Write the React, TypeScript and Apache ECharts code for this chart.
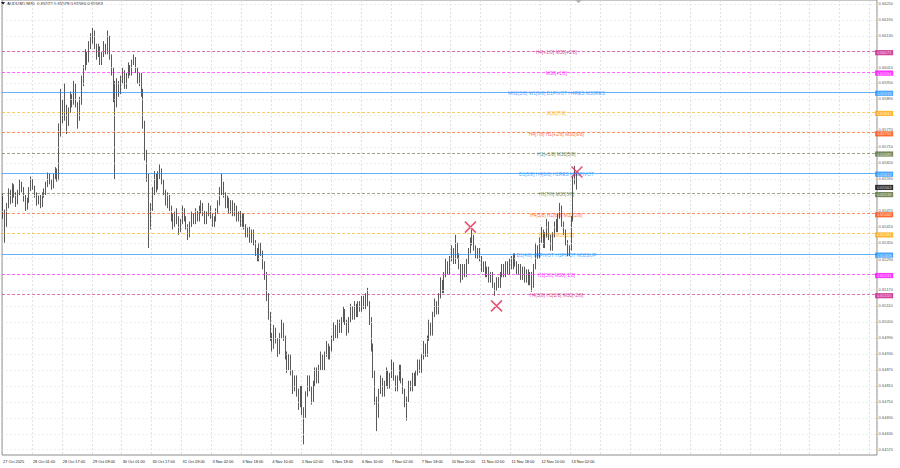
import { useEffect, useRef } from "react";
import * as echarts from "echarts";

const xTickLabels = [
  "27 Oct 2025", "28 Oct 01:00", "28 Oct 17:00", "29 Oct 09:00", "30 Oct 01:00",
  "30 Oct 17:00", "31 Oct 09:00", "3 Nov 02:00", "3 Nov 18:00", "4 Nov 10:00",
  "5 Nov 02:00", "5 Nov 18:00", "6 Nov 10:00", "7 Nov 02:00", "7 Nov 18:00",
  "10 Nov 10:00", "11 Nov 02:00", "11 Nov 18:00", "12 Nov 10:00", "13 Nov 02:00",
];

const yTicks = [
  0.6625, 0.6619, 0.6613, 0.6607, 0.6601, 0.6595, 0.6589, 0.6583, 0.6577, 0.6571,
  0.6565, 0.6559, 0.6553, 0.6547, 0.6541, 0.6535, 0.6529, 0.6523, 0.6517, 0.6511,
  0.6505, 0.6499, 0.6493, 0.6487, 0.6481, 0.6475, 0.6469, 0.6463, 0.6457,
];
const yTicksHidden = [0.6607, 0.6583, 0.6553, 0.6523];

// candles as [open, close, low, high] in 1e-5 units
const candlesA = [
  [65520,65460,65440,65535],[65460,65420,65350,65475],[65420,65490,65410,65500],[65490,65540,65480,65555],
  [65540,65510,65495,65550],[65510,65560,65500,65575],[65560,65530,65520,65570],[65530,65500,65485,65540],
  [65500,65540,65495,65550],[65540,65570,65530,65590],[65570,65550,65540,65580],[65550,65520,65505,65560],
  [65520,65480,65470,65530],[65480,65510,65475,65520],[65510,65550,65500,65560],[65550,65580,65545,65600],
  [65580,65560,65550,65590],[65560,65530,65520,65565],[65530,65500,65490,65540],[65500,65520,65495,65530],
  [65520,65490,65480,65530],[65490,65530,65485,65540],[65530,65540,65520,65555],[65540,65570,65530,65580],
  [65570,65600,65560,65615],[65600,65580,65570,65610],[65580,65560,65550,65590],[65560,65600,65555,65610],
  [65600,65620,65590,65635],[65620,65590,65580,65630],[65590,65760,65585,65800],[65760,65880,65750,65930],
  [65880,65820,65800,65890],[65820,65860,65810,65950],[65860,65800,65760,65870],[65800,65850,65790,65860],
  [65850,65900,65840,65920],[65900,65880,65860,65910],[65880,65940,65870,65960],[65940,65870,65860,65950],
  [65870,65820,65780,65880],[65820,65880,65810,65900],[65880,65950,65870,65980],[65950,66010,65940,66020],
  [66010,66060,66000,66080],[66060,66040,66020,66070],[66040,66090,66030,66110],[66090,66120,66080,66140],
  [66120,66130,66100,66160],[66130,66090,66080,66150],[66090,66060,66040,66100],[66060,66080,66050,66100],
  [66080,66030,66020,66090],[66030,66060,66020,66070],[66060,66090,66050,66110],[66090,66070,66060,66100],
  [66070,66110,66060,66150],[66110,66050,66040,66130],[66050,66000,65980,66060],[66000,65950,65880,66010],
  [65950,65900,65590,65960],[65900,65950,65860,65970],[65950,65920,65900,65960],[65920,65960,65910,65980],
  [65960,65990,65950,66010],[65990,65940,65930,66000],[65940,65980,65930,65990],[65980,66010,65970,66030],
  [66010,65990,65980,66020],[65990,66030,65980,66040],[66030,66040,66020,66060],[66040,66000,65990,66050],
  [66000,65960,65950,66010],[65960,65980,65940,65990],[65980,65920,65900,65990],[65920,65800,65780,65930],
  [65800,65680,65660,65810],[65680,65600,65580,65700],[65600,65420,65330,65610],[65420,65480,65400,65500],
];
const candlesB = [
  [65480,65540,65470,65560],[65540,65600,65530,65620],[65600,65560,65540,65610],[65560,65600,65550,65620],
  [65600,65620,65590,65645],[65620,65580,65570,65630],[65580,65540,65530,65590],[65540,65500,65490,65550],
  [65500,65520,65480,65540],[65520,65480,65470,65530],[65480,65450,65430,65490],[65450,65420,65400,65460],
  [65420,65460,65410,65470],[65460,65440,65420,65480],[65440,65400,65380,65450],[65400,65430,65390,65440],
  [65430,65470,65420,65490],[65470,65440,65430,65480],[65440,65410,65400,65450],[65410,65380,65360,65420],
  [65380,65420,65370,65430],[65420,65450,65410,65470],[65450,65430,65420,65460],[65430,65460,65420,65480],
  [65460,65440,65430,65470],[65440,65470,65430,65490],[65470,65490,65460,65510],[65490,65460,65450,65500],
  [65460,65430,65420,65470],[65430,65460,65420,65470],[65460,65480,65450,65500],[65480,65450,65440,65490],
  [65450,65420,65410,65460],[65420,65440,65410,65450],[65440,65470,65430,65480],[65470,65500,65460,65510],
  [65500,65540,65490,65560],[65540,65570,65530,65610],[65570,65530,65520,65580],[65530,65490,65480,65540],
  [65490,65510,65480,65530],[65510,65470,65460,65520],[65470,65500,65460,65510],[65500,65460,65450,65510],
  [65460,65480,65450,65500],[65480,65440,65430,65490],[65440,65460,65430,65470],[65460,65420,65410,65470],
  [65420,65450,65410,65460],[65450,65410,65400,65460],[65410,65380,65370,65420],[65380,65400,65370,65410],
  [65400,65360,65350,65410],[65360,65390,65350,65400],[65390,65350,65340,65400],[65350,65320,65300,65360],
  [65320,65290,65280,65330],[65290,65340,65280,65350],[65340,65310,65300,65350],[65310,65270,65250,65320],
  [65270,65230,65210,65280],[65230,65150,65130,65240],[65150,65080,65060,65160],[65080,65000,64980,65090],
  [65000,64960,64940,65010],[64960,65020,64950,65040],[65020,64980,64970,65030],[64980,64940,64920,64990],
  [64940,65000,64930,65010],[65000,65040,64990,65060],[65040,64990,64980,65050],[64990,64930,64910,65000],
  [64930,64880,64860,64940],[64880,64920,64870,64930],[64920,64860,64850,64930],[64860,64800,64780,64870],
  [64800,64840,64790,64850],[64840,64790,64770,64850],[64790,64740,64720,64800],[64740,64800,64730,64810],
];
const candlesC = [
  [64800,64720,64700,64810],[64720,64700,64590,64730],[64700,64780,64690,64790],[64780,64840,64770,64850],
  [64840,64800,64790,64850],[64800,64760,64740,64810],[64760,64820,64750,64830],[64820,64870,64810,64880],
  [64870,64830,64820,64880],[64830,64880,64820,64890],[64880,64920,64870,64940],[64920,64880,64870,64930],
  [64880,64930,64870,64940],[64930,64960,64920,64980],[64960,64920,64910,64970],[64920,64950,64910,64960],
  [64950,64990,64940,65000],[64990,65030,64980,65050],[65030,65000,64990,65040],[65000,65050,64990,65060],
  [65050,65020,65010,65060],[65020,65060,65010,65070],[65060,65090,65050,65110],[65090,65050,65040,65100],
  [65050,65020,65000,65060],[65020,65060,65010,65070],[65060,65100,65050,65120],[65100,65070,65060,65110],
  [65070,65110,65060,65130],[65110,65080,65070,65120],[65080,65120,65070,65130],[65120,65100,65090,65130],
  [65100,65140,65090,65150],[65140,65110,65100,65150],[65110,65150,65100,65160],[65150,65120,65110,65180],
  [65120,65060,65040,65130],[65060,64960,64940,65070],[64960,64860,64840,64970],[64860,64760,64740,64870],
  [64760,64700,64640,64770],[64700,64790,64690,64800],[64790,64830,64780,64850],[64830,64780,64770,64840],
  [64780,64820,64770,64830],[64820,64860,64810,64880],[64860,64810,64800,64870],[64810,64850,64800,64860],
  [64850,64890,64840,64910],[64890,64840,64830,64900],[64840,64800,64790,64850],[64800,64840,64790,64850],
  [64840,64880,64830,64890],[64880,64830,64820,64890],[64830,64790,64780,64840],[64790,64740,64730,64800],
  [64740,64760,64680,64770],[64760,64820,64750,64830],[64820,64800,64790,64830],[64800,64850,64790,64860],
  [64850,64820,64810,64860],[64820,64860,64810,64870],[64860,64900,64850,64910],[64900,64870,64860,64910],
  [64870,64920,64860,64930],[64920,64960,64910,64980],[64960,64930,64920,64970],[64930,64990,64920,65000],
  [64990,65040,64980,65060],[65040,65010,65000,65050],[65010,65080,65000,65090],[65080,65120,65070,65140],
  [65120,65090,65080,65130],[65090,65150,65080,65160],[65150,65200,65140,65220],[65200,65170,65160,65210],
  [65170,65230,65160,65240],[65230,65270,65220,65290],[65270,65240,65230,65280],[65240,65290,65230,65300],
];
const candlesD = [
  [65290,65320,65280,65340],[65320,65280,65270,65330],[65280,65340,65270,65380],[65340,65300,65290,65350],
  [65300,65260,65250,65310],[65260,65220,65200,65270],[65220,65260,65210,65270],[65260,65230,65220,65270],
  [65230,65280,65220,65290],[65280,65320,65270,65330],[65320,65350,65310,65370],[65350,65370,65340,65400],
  [65370,65330,65320,65380],[65330,65300,65290,65340],[65300,65320,65290,65330],[65320,65290,65280,65330],
  [65290,65250,65240,65300],[65250,65270,65240,65280],[65270,65230,65220,65280],[65230,65250,65220,65260],
  [65250,65210,65200,65260],[65210,65230,65200,65240],[65230,65190,65180,65240],[65190,65180,65150,65200],
  [65180,65210,65170,65220],[65210,65190,65180,65220],[65190,65230,65180,65240],[65230,65260,65220,65270],
  [65260,65230,65220,65270],[65230,65270,65220,65280],[65270,65240,65230,65280],[65240,65280,65230,65290],
  [65280,65260,65250,65300],[65260,65300,65250,65310],[65300,65270,65260,65310],[65270,65240,65230,65280],
  [65240,65260,65230,65270],[65260,65220,65210,65270],[65220,65250,65210,65260],[65250,65210,65200,65260],
  [65210,65240,65200,65250],[65240,65200,65190,65250],[65200,65230,65190,65240],[65230,65190,65165,65240],
  [65190,65260,65180,65270],[65260,65330,65250,65350],[65330,65300,65290,65340],[65300,65360,65290,65370],
  [65360,65390,65350,65410],[65390,65340,65330,65400],[65340,65380,65330,65390],[65380,65420,65370,65440],
  [65420,65370,65360,65430],[65370,65330,65320,65380],[65330,65380,65320,65390],[65380,65420,65370,65430],
  [65420,65400,65390,65440],[65400,65450,65390,65460],[65450,65480,65440,65500],[65480,65420,65410,65490],
  [65420,65390,65380,65430],[65390,65350,65340,65400],[65350,65310,65300,65360],[65310,65330,65300,65340],
  [65330,65440,65320,65450],[65440,65590,65430,65600],[65590,65600,65570,65640],[65600,65563,65550,65610],
];

const levelPrices = [0.66071, 0.65994, 0.65918, 0.65842, 0.65765, 0.65689, 0.65613, 0.65536, 0.6546, 0.65384, 0.65308, 0.65231, 0.65155];
const levelNames = [
  "H4[+1/8] M30[+2/8]", "M30[+1/8]", "MN1[3/8] W1[6/8] D1PIVOT H4RES M30RES", "M30[7/8]",
  "H4[7/8] H1[+2/8] M30[6/8]", "H1[+1/8] M30[5/8]", "D1[5/8] H4[6/8] H1RES M30PIVOT", "H1[7/8] M30[3/8]",
  "H4[5/8] H1[6/8] M30[2/8]", "H1[5/8] M30[1/8]", "D1[4/8] H4PIVOT H1PIVOT M30SUP", "H1[3/8] M30[-1/8]",
  "H4[3/8] H1[2/8] M30[-2/8]",
];
const levelKinds = ["vr", "mg", "bl", "or", "rd", "ol", "bl", "ol", "rd", "or", "bl", "mg", "vr"];
const closePrice = 0.65563;

const fractalIdx = [250, 264, 307];
const fractalPrice = [0.65409, 0.65112, 0.65617];

const titleText = "AUDUSD,M30  0.65572 0.65578 0.65560 0.65563";

const KIND_COLOR: Record<string, string> = {
  vr: "#C71585", mg: "#FF00FF", bl: "#1E90FF", or: "#FFA500", rd: "#FF4500", ol: "#556B2F",
};
const FONT = "Liberation Sans, Arial, sans-serif";
const Y_MIN = 0.6455;
const Y_MAX = 0.66265;
const PLOT_H = 455;
const N_CATS = 468;
const BOX_SHIFT = 1.2;
const BOX_HALF = 2.6;
const TICK_HALF = 2.1;

export default function App() {
  const ref = useRef<HTMLDivElement>(null);
  useEffect(() => {
    document.body.style.margin = "0";
    const chart = echarts.init(ref.current!, null, { renderer: "svg" });
    const candles = [...candlesA, ...candlesB, ...candlesC, ...candlesD].map((c) => c.map((v) => v / 100000));
    const cats = Array.from({ length: N_CATS }, (_, i) => String(i));
    const lastIdx = N_CATS - 1;
    const labelIdx = 296;
    const toPx = (v: number) => ((Y_MAX - v) / (Y_MAX - Y_MIN)) * PLOT_H;
    const boxPrices = [...levelPrices, closePrice];

    // push a scale label away from a coloured price box it would collide with
    const tickOffset = (v: number) => {
      const y = toPx(v);
      let off = -0.6;
      for (const p of boxPrices) {
        const yb = toPx(p) + BOX_SHIFT;
        const gap = BOX_HALF + TICK_HALF;
        if (Math.abs(y + off - yb) < gap) {
          off = y < yb ? yb - gap - y : yb + gap - y;
        }
      }
      return off;
    };

    const boxPoint = (p: number, bg: string) => ({
      value: [lastIdx, p],
      label: {
        show: true,
        position: "right",
        distance: 0,
        offset: [-1, BOX_SHIFT],
        formatter: p.toFixed(5),
        fontSize: 4,
        color: "#fff",
        backgroundColor: bg,
        padding: [0.8, 1.8, 0.4, 1.8],
        fontFamily: FONT,
      },
    });

    const option: any = {
      animation: false,
      backgroundColor: "#ffffff",
      grid: { left: 0, top: 0, right: 23, bottom: 13, show: true, borderColor: "#8c8c8c", borderWidth: 1 },
      xAxis: {
        type: "category",
        data: cats,
        boundaryGap: true,
        axisLine: { show: false },
        axisTick: { show: false },
        axisLabel: {
          interval: (i: number) => i % 16 === 0 && i / 16 < xTickLabels.length,
          formatter: (_v: string, i: number) => xTickLabels[i / 16] ?? "",
          align: "left",
          fontSize: 3.9,
          color: "#222",
          margin: 4.5,
          fontFamily: FONT,
        },
        splitLine: {
          show: true,
          interval: (i: number) => i % 16 === 0 && i > 0,
          lineStyle: { color: "#d4d4d4", type: [2, 2], width: 0.7 },
        },
      },
      yAxis: {
        type: "value",
        position: "right",
        min: Y_MIN,
        max: Y_MAX,
        axisLabel: { show: false },
        axisLine: { show: false },
        axisTick: { show: false },
        splitLine: { show: false },
      },
      graphic: [
        { type: "polygon", shape: { points: [[1, 2], [5, 2], [3, 5]] }, style: { fill: "#222" } },
        { type: "text", left: 7, top: 1, style: { text: titleText, fontSize: 4.3, fill: "#111", fontFamily: FONT } },
        { type: "polygon", shape: { points: [[575, 0], [582, 0], [578.5, 3]] }, style: { fill: "#b0b0b0" } },
      ],
      series: [
        {
          // horizontal grid lines and price-scale tick labels
          type: "scatter",
          z: 1,
          silent: true,
          clip: false,
          symbolSize: 0.1,
          itemStyle: { color: "transparent" },
          data: yTicks
            .filter((v) => !yTicksHidden.includes(v))
            .map((v) => ({
              value: [lastIdx, v],
              label: {
                show: true,
                position: "right",
                distance: 2.5,
                offset: [0, tickOffset(v)],
                formatter: v.toFixed(5),
                fontSize: 4,
                color: "#222",
                fontFamily: FONT,
              },
            })),
          markLine: {
            silent: true,
            precision: 6,
            symbol: ["none", "none"],
            animation: false,
            label: { show: false },
            data: yTicks.map((v) => ({
              yAxis: v,
              lineStyle: { color: "#e6e6e6", type: [2, 2], width: 0.7 },
            })),
          },
        },
        {
          // level lines with their names
          type: "scatter",
          z: 2,
          silent: true,
          symbolSize: 0.1,
          itemStyle: { color: "transparent" },
          data: levelPrices.map((p, k) => ({
            value: [labelIdx, p],
            label: {
              show: true,
              position: "inside",
              offset: [0, 1.5],
              formatter: levelNames[k],
              fontSize: 4.8,
              color: KIND_COLOR[levelKinds[k]],
              fontFamily: FONT,
            },
          })),
          markLine: {
            silent: true,
            precision: 6,
            symbol: ["none", "none"],
            animation: false,
            label: { show: false },
            data: levelPrices.map((p, k) => ({
              yAxis: p,
              lineStyle: {
                color: KIND_COLOR[levelKinds[k]],
                type: levelKinds[k] === "bl" ? "solid" : [3, 2],
                width: 1,
                opacity: levelKinds[k] === "bl" ? 0.7 : 0.6,
              },
            })),
          },
        },
        {
          // price boxes on the scale
          type: "scatter",
          z: 5,
          silent: true,
          clip: false,
          symbolSize: 0.1,
          itemStyle: { color: "transparent" },
          data: [
            ...levelPrices.map((p, k) => boxPoint(p, KIND_COLOR[levelKinds[k]])),
            boxPoint(closePrice, "#000"),
          ],
        },
        {
          type: "candlestick",
          z: 3,
          data: candles,
          barMaxWidth: 1.5,
          itemStyle: {
            color: "#ffffff",
            color0: "#000000",
            borderColor: "#111",
            borderColor0: "#111",
            borderWidth: 0.7,
          },
        },
        {
          type: "scatter",
          z: 4,
          silent: true,
          symbol: "path://M0,0L10,10M10,0L0,10",
          symbolSize: 11,
          itemStyle: { color: "none", borderColor: "#E0264E", borderWidth: 1.5 },
          data: fractalIdx.map((i, k) => [i, fractalPrice[k]]),
        },
      ],
    };
    chart.setOption(option);
    return () => chart.dispose();
  }, []);
  return <div ref={ref} style={{ width: 900, height: 468 }} />;
}
